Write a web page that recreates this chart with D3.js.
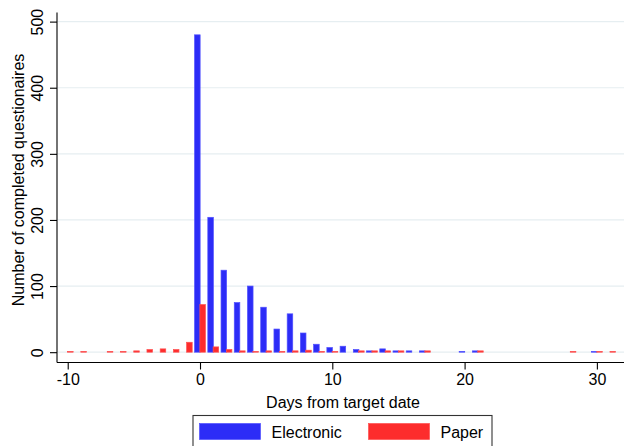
<!DOCTYPE html>
<html>
<head>
<meta charset="utf-8">
<script src="https://cdn.jsdelivr.net/npm/d3@7"></script>
<style>
  html, body { margin: 0; padding: 0; background: #fff; }
  svg { display: block; font-family: "Liberation Sans", Arial, sans-serif; }
</style>
</head>
<body>
<svg id="chart" width="624" height="446"></svg>
<script>
// Days from target date
const days = d3.range(-10, 32);
// Number of completed questionnaires per day, -10 .. 31
const electronic = [0,0,0,0,0,0,0,0,0,0,
  480,204,124,75,100,68,35,58,29,12,7,9,4,2,5,2,2,2,0,0,1,2,0,0,0,0,0,0,0,0,1,0];
const paper = [1,1,0,1,1,2,4,5,4,15,
  72,8,4,2,1,2,1,2,3,1,1,0,2,2,2,2,0,2,0,0,0,2,0,0,0,0,0,0,1,0,1,1];
const xTicks = [-10, 0, 10, 20, 30];
const yTicks = [0, 100, 200, 300, 400, 500];
const seriesNames = ["Electronic", "Paper"];
const colors = { fill: ["#2c2cf7", "#fd2c2c"], stroke: ["#5050ff", "#ff5050"] };

const svg = d3.select("#chart");
const x = d3.scaleLinear().domain([-10.81, 32.05]).range([57, 624]);
const y = d3.scaleLinear().domain([-15.6, 510]).range([362.5, 15]);

// grid
svg.append("g").selectAll("line").data(yTicks).join("line")
  .attr("x1", 57.5).attr("x2", 624)
  .attr("y1", d => y(d)).attr("y2", d => y(d))
  .attr("stroke", "#e6eef1").attr("stroke-width", 1.2);

// bars
const bw = 0.42;
const offs = [-0.2, 0.2];
[electronic, paper].forEach((vals, si) => {
  svg.append("g").selectAll("rect").data(days.map((d, i) => ({d, v: vals[i]})).filter(o => o.v > 0))
    .join("rect")
    .attr("x", o => x(o.d + offs[si] - bw / 2))
    .attr("width", x(bw) - x(0))
    .attr("y", o => y(o.v))
    .attr("height", o => y(0) - y(o.v))
    .attr("fill", colors.fill[si])
    .attr("stroke", colors.stroke[si])
    .attr("stroke-width", 0.7);
});

// axes
const xAxis = d3.axisBottom(x).tickValues(xTicks).tickFormat(d => String(d))
  .tickSize(7).tickPadding(4).tickSizeOuter(0);
const gx = svg.append("g").attr("transform", "translate(0,362.5)").call(xAxis);
gx.select(".domain").attr("d", "M57,0H624");
gx.selectAll("text").attr("font-size", 16).attr("fill", "#000").attr("font-family", "Liberation Sans, Arial, sans-serif");
gx.selectAll("line, path").attr("stroke", "#000").attr("stroke-width", 1.1);

const yAxis = d3.axisLeft(y).tickValues(yTicks).tickSize(7).tickSizeOuter(0);
const gy = svg.append("g").attr("transform", "translate(57,0)").call(yAxis);
gy.select(".domain").attr("d", "M0,12.5V362.5");
gy.selectAll("line, path").attr("stroke", "#000").attr("stroke-width", 1.1);
gy.selectAll("text").remove();
gy.selectAll(".tick").append("text")
  .attr("transform", "translate(-14.5,0) rotate(-90)")
  .attr("text-anchor", "middle")
  .attr("font-size", 16).attr("fill", "#000")
  .text(d => String(d));

// axis titles
svg.append("text").attr("x", 343).attr("y", 408).attr("text-anchor", "middle")
  .attr("font-size", 16).text("Days from target date");
svg.append("text").attr("transform", "translate(24,180) rotate(-90)").attr("text-anchor", "middle")
  .attr("font-size", 16).text("Number of completed questionaires");

// legend
const lg = svg.append("g");
lg.append("rect").attr("x", 193).attr("y", 415.5).attr("width", 299).attr("height", 40)
  .attr("fill", "#fff").attr("stroke", "#333").attr("stroke-width", 1.1);
const legendX = [199.5, 368.5];
seriesNames.forEach((n, i) => {
  lg.append("rect").attr("x", legendX[i]).attr("y", 423.5).attr("width", 61).attr("height", 16)
    .attr("fill", colors.fill[i]).attr("stroke", colors.stroke[i]).attr("stroke-width", 0.7);
  lg.append("text").attr("x", legendX[i] + 72).attr("y", 437.5).attr("font-size", 16).text(n);
});
</script>
</body>
</html>
